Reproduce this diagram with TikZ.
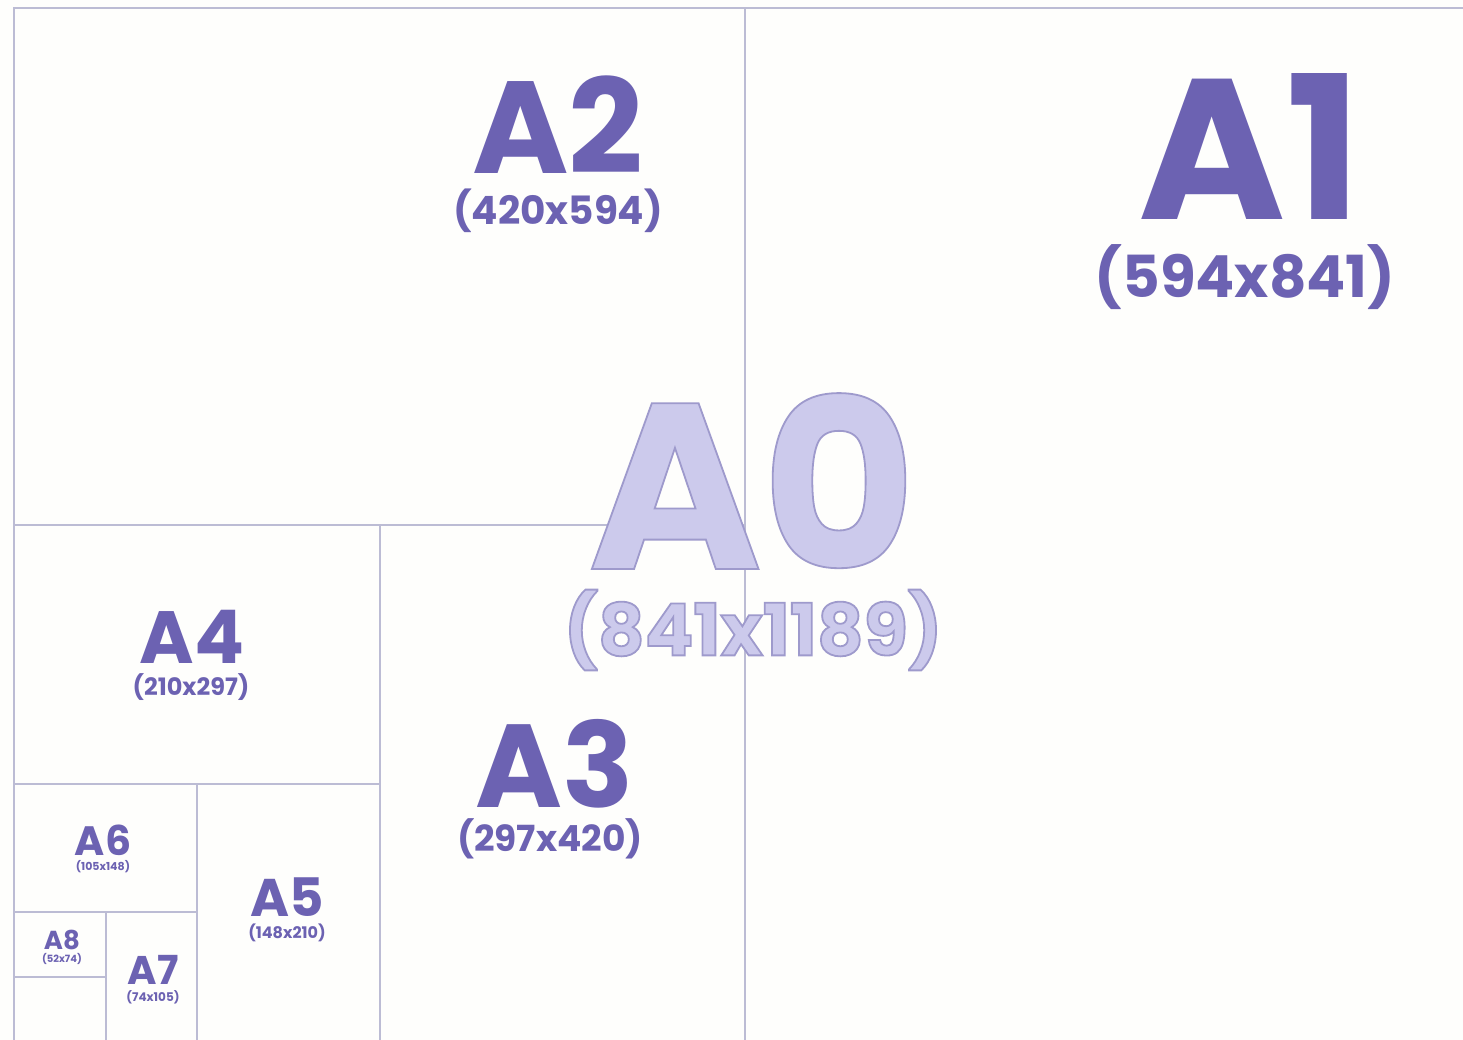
\documentclass[tikz,border=0pt]{standalone}
\usepackage{fontspec}
\setmainfont{Poppins}
\usepackage{xcolor}
\usepackage{tikz}
\usetikzlibrary{positioning, calc}

\definecolor{paper}{RGB}{254,254,252}
\definecolor{sheetline}{RGB}{188,188,212}
\definecolor{sizeviolet}{RGB}{108,98,178}
\definecolor{azerofill}{RGB}{204,202,236}

% outlined text: fill, then stroke the glyph edges in a darker lavender
\newcommand{\rimtext}[1]{\special{pdf:literal direct 2 Tr 1.8 w 0.62 0.604 0.8 RG}#1\special{pdf:literal direct 0 Tr}}

\tikzset{
  sheet/.style={draw=sheetline, line width=2.6pt},
  sizename/.style={inner sep=0pt, text=sizeviolet, font=\bfseries},
  azero/.style={inner sep=0pt, text=azerofill, font=\bfseries}
}

\begin{document}
\begin{tikzpicture}[x=1pt, y=-1pt]
\useasboundingbox (0,0) rectangle (1463,1040);
\fill[paper] (0,0) rectangle (1463,1040);

% sheet borders
\draw[sheet] (14,1046) -- (14,8) -- (1470,8);
\draw[sheet] (745,8) -- (745,1046);
\draw[sheet] (14,525) -- (745,525);
\draw[sheet] (380,525) -- (380,1046);
\draw[sheet] (14,784) -- (380,784);
\draw[sheet] (197,784) -- (197,1046);
\draw[sheet] (14,912) -- (197,912);
\draw[sheet] (106,912) -- (106,1046);
\draw[sheet] (14,977) -- (106,977);

% A0 in the middle, light with a darker rim
\node[azero, font=\bfseries\fontsize{236}{236}\selectfont] (a0) at (752,481) {\rimtext{A0}};
\node[azero, font=\bfseries\fontsize{72}{72}\selectfont] (a0dim) at (753,630) {\rimtext{(841x1189)}};

% size names
\foreach \name/\x/\y/\pt in {A1/1250/147/200, A2/558/125/131, A3/555/764/118,
    A4/192/637/74, A5/287/897/53, A6/103/840/41, A7/153/970/40, A8/62/940/26} {
  \node[sizename, font=\bfseries\fontsize{\pt}{\pt}\selectfont] (\name) at (\x,\y) {\name};
}

% dimensions in mm
\foreach \name/\dims/\x/\y/\pt in {A1/594x841/1245/277/58, A2/420x594/558/211/39,
    A3/297x420/550/839/36, A4/210x297/191/687/24, A5/148x210/287/933/16,
    A6/105x148/103/867/11, A7/74x105/153/997/12, A8/52x74/62/959/10} {
  \node[sizename, font=\bfseries\fontsize{\pt}{\pt}\selectfont] (\name dim) at (\x,\y) {(\dims)};
}
\end{tikzpicture}
\end{document}
